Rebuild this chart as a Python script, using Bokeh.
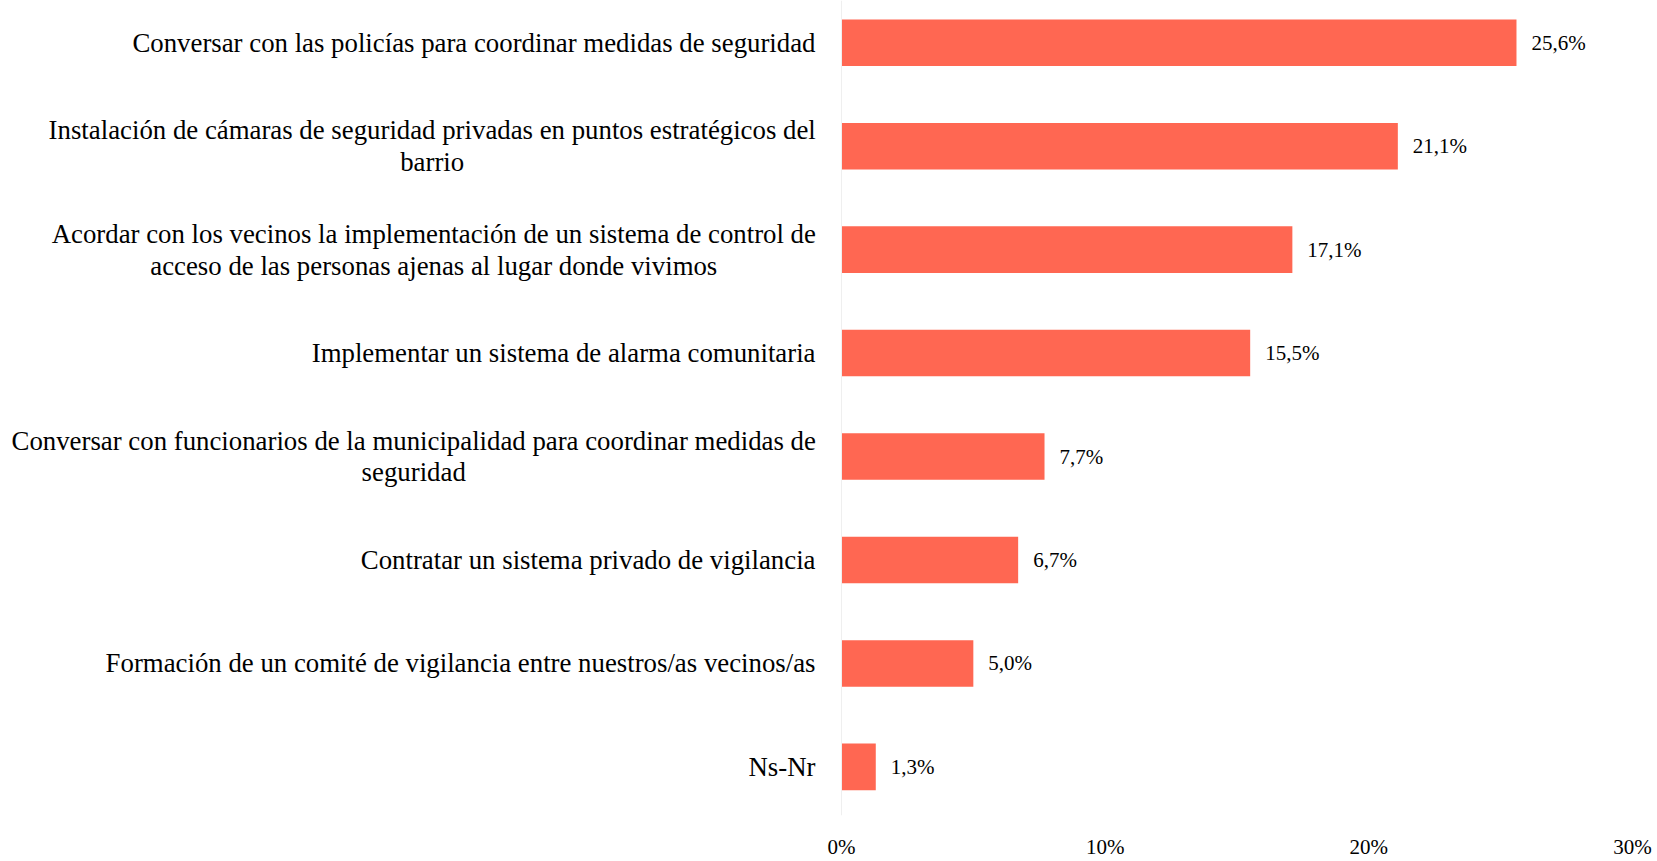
from bokeh.plotting import figure
from bokeh.models import ColumnDataSource, Range1d, FixedTicker, Span
from bokeh.core.properties import value
from bokeh.embed import file_html
from bokeh.resources import INLINE

categories = [
    "Conversar con las policías para coordinar medidas de seguridad",
    "Instalación de cámaras de seguridad privadas en puntos estratégicos del\nbarrio",
    "Acordar con los vecinos la implementación de un sistema de control de\nacceso de las personas ajenas al lugar donde vivimos",
    "Implementar un sistema de alarma comunitaria",
    "Conversar con funcionarios de la municipalidad para coordinar medidas de\nseguridad",
    "Contratar un sistema privado de vigilancia",
    "Formación de un comité de vigilancia entre nuestros/as vecinos/as",
    "Ns-Nr",
]
values = [25.6, 21.1, 17.1, 15.5, 7.7, 6.7, 5.0, 1.3]
value_labels = ["25,6%", "21,1%", "17,1%", "15,5%", "7,7%", "6,7%", "5,0%", "1,3%"]
x_ticks = [0, 10, 20, 30]
x_tick_labels = ["0%", "10%", "20%", "30%"]

# ---- layout (pixels) ----
W, H = 1657, 861
ZERO_PX = 841.0          # x of 0% inside the figure
PX_PER_UNIT = 791.0 / 30.0
FONT = "Liberation Serif"
BAR_COLOR = "#FF6752"
LABEL_SIZE = "26.8px"


def px_to_x(px):
    return (px - ZERO_PX) / PX_PER_UNIT


idx = list(range(len(categories)))
single = [i for i, c in enumerate(categories) if "\n" not in c]
multi = [i for i, c in enumerate(categories) if "\n" in c]
# centre (px) of the wrapped label blocks
multi_center_px = {1: 431.7, 2: 433.3, 4: 413.2}

p = figure(width=W, height=H, output_backend="svg", toolbar_location=None,
           x_range=Range1d(px_to_x(0), px_to_x(W)),
           y_range=Range1d(7.47, -0.408),
           min_border_left=0, min_border_right=0, min_border_top=0,
           min_border_bottom=44)
p.outline_line_color = None
p.xgrid.visible = False
p.ygrid.visible = False
p.yaxis.visible = False

src = ColumnDataSource(dict(y=idx, v=values, lab=value_labels))
p.add_layout(Span(location=0, dimension="height", line_color="#EFEFEF", line_width=1))
p.hbar(y="y", left=0, right="v", height=0.45, source=src,
       fill_color=BAR_COLOR, line_color=None)
p.text(x="v", y="y", text="lab", source=src, x_offset=15,
       text_font=value(FONT), text_font_size="21px", text_color="black",
       text_align="left", text_baseline="middle")

s1 = ColumnDataSource(dict(x=[px_to_x(815)] * len(single), y=single,
                           t=[categories[i] for i in single]))
p.text(x="x", y="y", text="t", source=s1, text_font=value(FONT),
       text_font_size=LABEL_SIZE, text_color="black", text_align="right",
       text_baseline="middle")
s2 = ColumnDataSource(dict(x=[px_to_x(multi_center_px[i]) for i in multi], y=multi,
                           t=[categories[i] for i in multi]))
p.text(x="x", y="y", text="t", source=s2, text_font=value(FONT),
       text_font_size=LABEL_SIZE, text_color="black", text_align="center",
       text_baseline="middle", text_line_height=1.06)

ax = p.xaxis[0]
ax.ticker = FixedTicker(ticks=x_ticks)
ax.major_label_overrides = {t: l for t, l in zip(x_ticks, x_tick_labels)}
ax.axis_line_color = None
ax.major_tick_line_color = None
ax.minor_tick_line_color = None
ax.major_tick_out = 0
ax.major_tick_in = 0
ax.minor_tick_out = 0
ax.minor_tick_in = 0
ax.major_label_standoff = 19
ax.major_label_text_font = FONT
ax.major_label_text_font_size = "21px"
ax.major_label_text_color = "black"

open("out.html", "w").write(file_html(p, INLINE))
